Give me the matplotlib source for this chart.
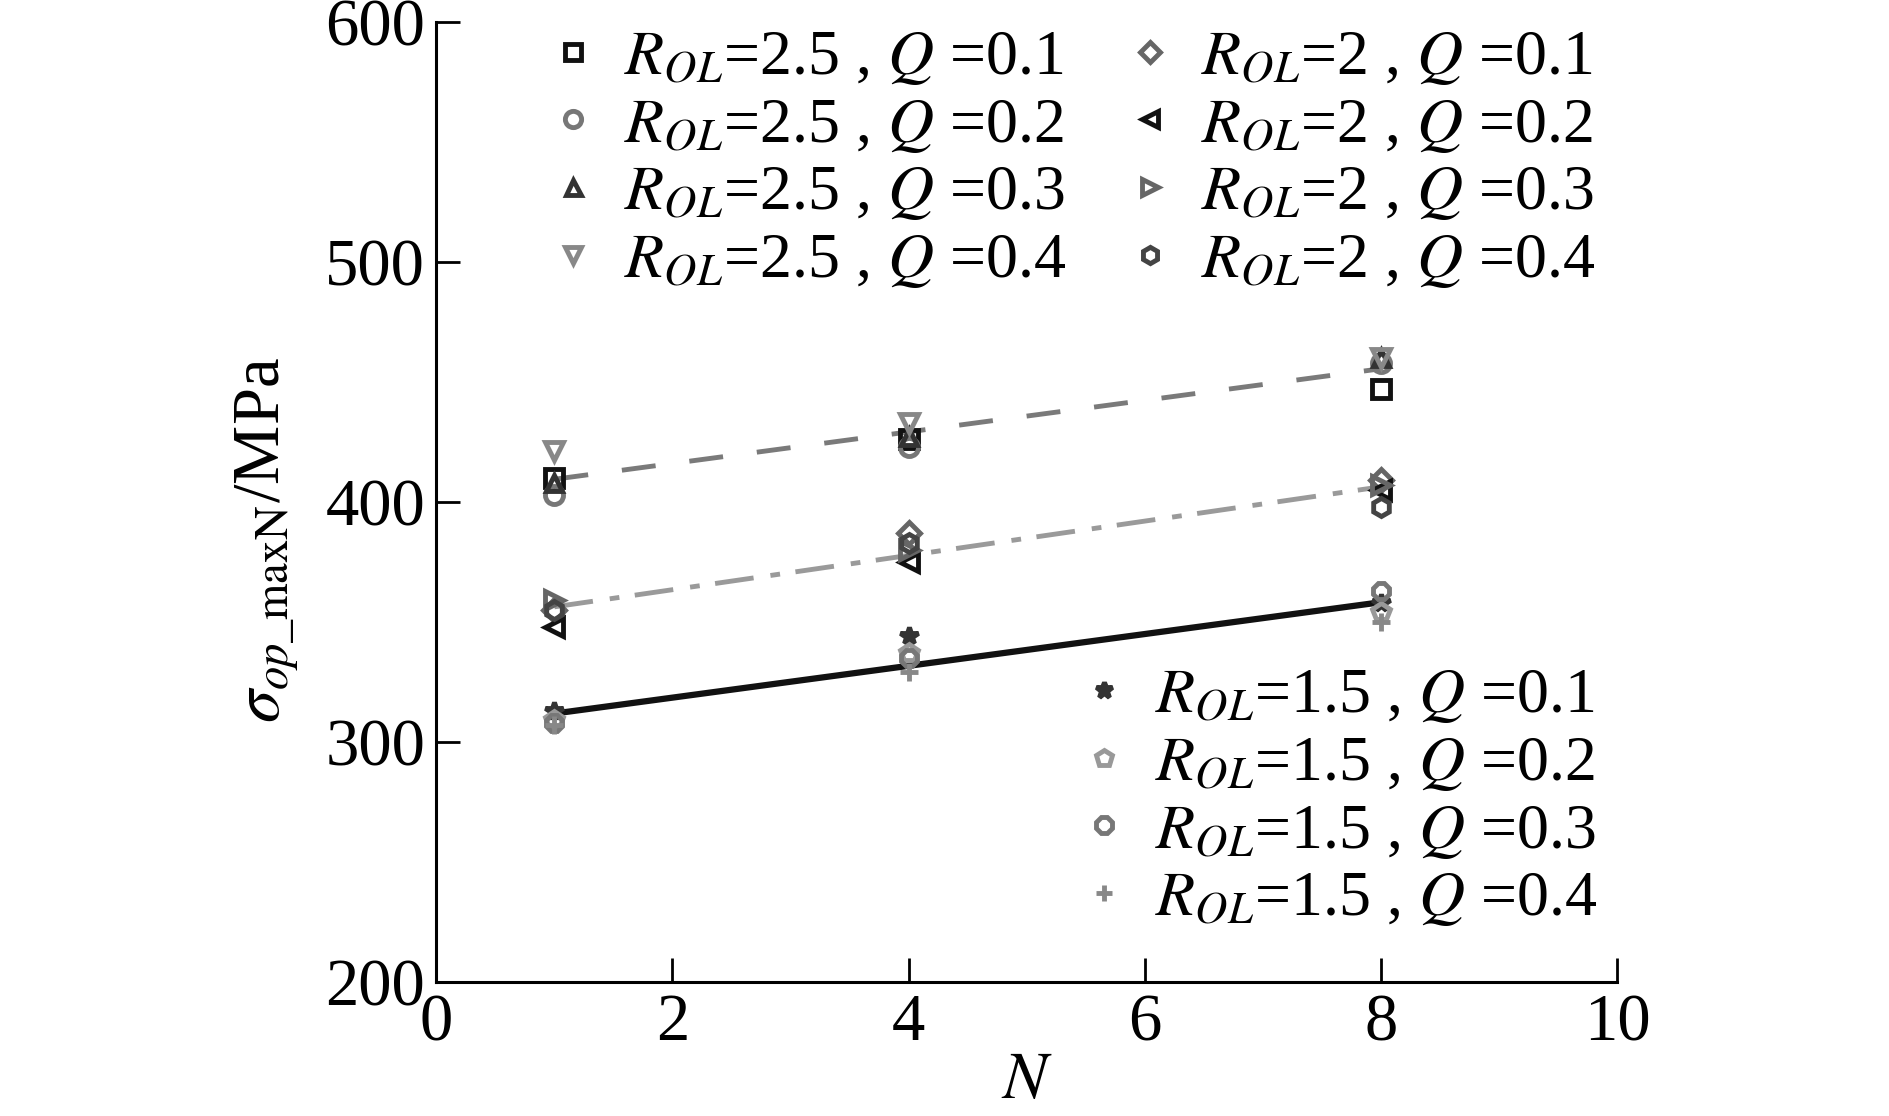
import numpy as np
import matplotlib.pyplot as plt

plt.rcParams['font.family'] = ['Liberation Serif', 'DejaVu Serif']
plt.rcParams['mathtext.fontset'] = 'stix'

# data
N = [1, 4, 8]

r25_q1 = [410, 426, 447]
r25_q2 = [403, 423, 458]
r25_q3 = [408, 427, 460]
r25_q4 = [421, 433, 460]

r2_q1 = [355, 387, 409]
r2_q2 = [348, 375, 405]
r2_q3 = [359, 380, 407]
r2_q4 = [355, 383, 398]

r15_q1 = [313, 344, 358]
r15_q2 = [309, 337, 354]
r15_q3 = [308, 335, 363]
r15_q4 = [307, 329, 350]

labels_25 = [r'$R_{OL}$=2.5 , $Q$ =0.%d' % i for i in range(1, 5)]
labels_2 = [r'$R_{OL}$=2 , $Q$ =0.%d' % i for i in range(1, 5)]
labels_15 = [r'$R_{OL}$=1.5 , $Q$ =0.%d' % i for i in range(1, 5)]

fig = plt.figure(figsize=(18.89, 11.16), dpi=100)
ax = fig.add_axes([0.231, 0.120, 0.625, 0.8606])

ms = 13
mew = 3.5

def mk(x, y, marker, color, label):
    h, = ax.plot(x, y, linestyle='none', marker=marker, markersize=ms,
                 markerfacecolor='none', markeredgecolor=color,
                 markeredgewidth=mew, label=label, zorder=3)
    return h

# fitted trend lines for each R_OL group
xf = np.array([1, 8])
for grp, style in [
        ([r25_q1, r25_q2, r25_q3, r25_q4], dict(color='#7a7a7a', lw=3.5, dashes=(7, 7))),
        ([r2_q1, r2_q2, r2_q3, r2_q4], dict(color='#9a9a9a', lw=3.5, dashes=(8, 3.5, 2, 3.2))),
        ([r15_q1, r15_q2, r15_q3, r15_q4], dict(color='#111111', lw=4.5))]:
    xs = np.tile(N, 4)
    ys = np.concatenate(grp)
    p = np.polyfit(xs, ys, 1)
    ax.plot(xf, np.polyval(p, xf), zorder=2, **style)

h1 = [mk(N, r25_q1, 's', '#111111', labels_25[0]),
      mk(N, r25_q2, 'o', '#777777', labels_25[1]),
      mk(N, r25_q3, '^', '#333333', labels_25[2]),
      mk(N, r25_q4, 'v', '#888888', labels_25[3])]
h2 = [mk(N, r2_q1, 'D', '#666666', labels_2[0]),
      mk(N, r2_q2, '<', '#111111', labels_2[1]),
      mk(N, r2_q3, '>', '#666666', labels_2[2]),
      mk(N, r2_q4, 'h', '#444444', labels_2[3])]
h3 = [mk(N, r15_q1, '*', '#333333', labels_15[0]),
      mk(N, r15_q2, 'p', '#999999', labels_15[1]),
      mk(N, r15_q3, '8', '#777777', labels_15[2]),
      mk(N, r15_q4, '+', '#888888', labels_15[3])]
h1[2].set_markersize(12)
h2[0].set_markersize(11)
h3[0].set_markerfacecolor('#333333')

leg1 = ax.legend(h1 + h2, labels_25 + labels_2, ncol=2, loc='upper left',
                 bbox_to_anchor=(0.04, 1.052), frameon=False, fontsize=46,
                 handlelength=1.0, handletextpad=0.3, columnspacing=0.8,
                 labelspacing=0.14, markerscale=0.9)
ax.add_artist(leg1)
ax.legend(h3, labels_15, loc='lower left', bbox_to_anchor=(0.49, -0.005),
          frameon=False, fontsize=46, handlelength=1.0, handletextpad=0.3,
          labelspacing=0.14, markerscale=0.9)

ax.set_xlim(0, 10)
ax.set_ylim(200, 600)
ax.set_xticks([0, 2, 4, 6, 8, 10])
ax.set_yticks([200, 300, 400, 500, 600])
ax.tick_params(direction='in', length=17, width=2, labelsize=48, pad=8)
ax.spines['top'].set_visible(False)
ax.spines['right'].set_visible(False)
for s in ['left', 'bottom']:
    ax.spines[s].set_linewidth(2.2)

ax.set_xlabel(r'$N$', fontsize=48, labelpad=-2)
ax.set_ylabel(r'$\sigma_{op\_\mathrm{maxN}}$/MPa', fontsize=48)
ax.yaxis.set_label_coords(-0.115, 0.46)

fig.savefig('out.png', dpi=100)
